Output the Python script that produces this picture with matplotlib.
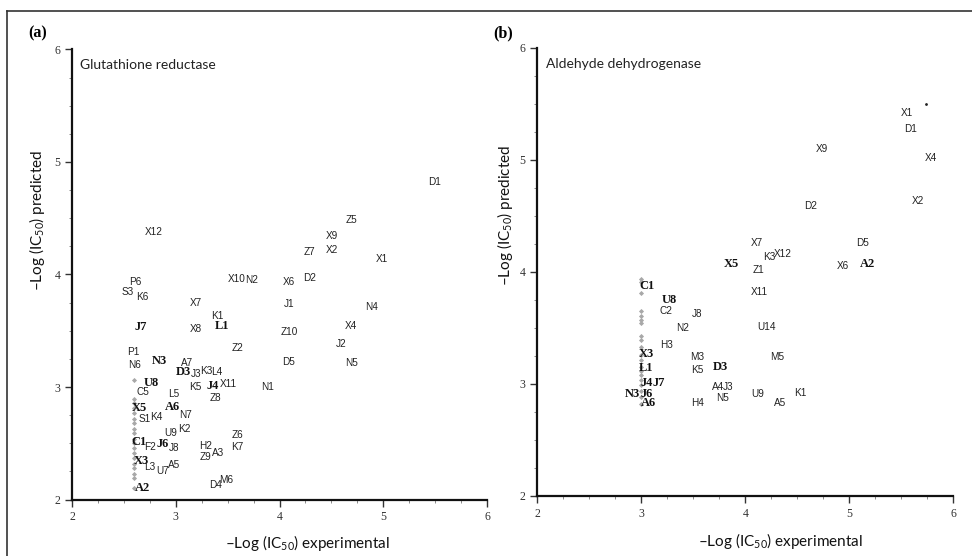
import matplotlib
matplotlib.use("Agg")
from matplotlib import pyplot as plt
from matplotlib.ticker import MultipleLocator
from matplotlib.lines import Line2D

plt.rcParams['mathtext.fontset'] = 'custom'
plt.rcParams['mathtext.rm'] = 'Lato'

# (a) Glutathione reductase: labels, experimental (x), predicted (y)
a_labels = ['D1', 'Z5', 'X9', 'X2', 'Z7', 'X1', 'X6', 'D2', 'J1', 'N4', 'Z10', 'X4',
            'J2', 'D5', 'N5', 'N1', 'X12', 'P6', 'S3', 'K6', 'X10', 'N2', 'J7', 'X8',
            'L1', 'K1', 'X7', 'Z2', 'P1', 'N6', 'N3', 'A7', 'D3', 'J3', 'K3', 'L4',
            'U8', 'C5', 'K5', 'J4', 'X11', 'L5', 'Z8', 'X5', 'A6', 'S1', 'K4', 'N7',
            'K2', 'U9', 'Z6', 'C1', 'F2', 'J6', 'J8', 'H2', 'K7', 'Z9', 'A3', 'X3',
            'L3', 'U7', 'A5', 'D4', 'M6', 'A2']
a_x = [5.49, 4.69, 4.50, 4.50, 4.29, 4.99, 4.09, 4.29, 4.09, 4.89, 4.09, 4.69,
       4.59, 4.09, 4.69, 3.88, 2.79, 2.61, 2.54, 2.68, 3.59, 3.73, 2.66, 3.19,
       3.45, 3.40, 3.19, 3.59, 2.59, 2.60, 2.84, 3.11, 3.07, 3.20, 3.29, 3.39,
       2.76, 2.68, 3.19, 3.36, 3.51, 2.98, 3.38, 2.65, 2.97, 2.70, 2.81, 3.09,
       3.08, 2.95, 3.59, 2.65, 2.75, 2.87, 2.98, 3.29, 3.59, 3.29, 3.41, 2.67,
       2.75, 2.87, 2.98, 3.38, 3.49, 2.68]
a_y = [4.82, 4.48, 4.34, 4.22, 4.20, 4.14, 3.93, 3.97, 3.74, 3.71, 3.49, 3.54,
       3.38, 3.22, 3.21, 3.00, 4.38, 3.93, 3.84, 3.80, 3.96, 3.95, 3.53, 3.52,
       3.54, 3.63, 3.75, 3.35, 3.31, 3.20, 3.23, 3.21, 3.13, 3.12, 3.14, 3.13,
       3.04, 2.96, 3.00, 3.01, 3.03, 2.94, 2.90, 2.81, 2.82, 2.72, 2.73, 2.75,
       2.63, 2.59, 2.57, 2.51, 2.47, 2.49, 2.46, 2.48, 2.47, 2.38, 2.41, 2.34,
       2.29, 2.25, 2.31, 2.13, 2.17, 2.10]
a_bold = ['J7', 'L1', 'N3', 'D3', 'U8', 'J4', 'X5', 'A6', 'C1', 'J6', 'X3', 'A2']
# grey diamonds (overlapping compounds at the low limit)
a_grey_x = 2.60
a_grey_y = [3.06, 2.89, 2.86, 2.81, 2.77, 2.72, 2.68, 2.63, 2.59, 2.54, 2.50,
            2.46, 2.41, 2.37, 2.32, 2.28, 2.23, 2.19, 2.10]

# (b) Aldehyde dehydrogenase
b_labels = ['X1', 'D1', 'X9', 'X4', 'X2', 'D2', 'X7', 'D5', 'K3', 'X12', 'Z1', 'X6',
            'A2', 'X11', 'X5', 'C1', 'U8', 'C2', 'J8', 'N2', 'U14', 'H3', 'X3', 'M3',
            'M5', 'L1', 'K5', 'D3', 'J4', 'J7', 'A4', 'J3', 'N3', 'J6', 'U9', 'K1',
            'N5', 'A6', 'H4', 'A5']
b_x = [5.55, 5.59, 4.74, 5.78, 5.66, 4.63, 4.11, 5.13, 4.23, 4.36, 4.13, 4.94,
       5.17, 4.13, 3.87, 3.05, 3.27, 3.24, 3.54, 3.40, 4.20, 3.24, 3.05, 3.54,
       4.31, 3.05, 3.54, 3.76, 3.05, 3.17, 3.74, 3.83, 2.91, 3.05, 4.12, 4.53,
       3.78, 3.07, 3.54, 4.33]
b_y = [5.42, 5.28, 5.10, 5.02, 4.63, 4.59, 4.26, 4.26, 4.13, 4.16, 4.02, 4.05,
       4.07, 3.82, 4.07, 3.87, 3.75, 3.65, 3.62, 3.50, 3.51, 3.35, 3.27, 3.24,
       3.24, 3.14, 3.12, 3.15, 3.01, 3.01, 2.97, 2.97, 2.91, 2.91, 2.91, 2.92,
       2.87, 2.83, 2.83, 2.83]
b_bold = ['X5', 'A2', 'C1', 'U8', 'X3', 'L1', 'J4', 'J7', 'J6', 'N3', 'A6', 'D3']
b_grey_x = 3.00
b_grey_y = [3.94, 3.91, 3.81, 3.65, 3.61, 3.57, 3.54, 3.43, 3.39, 3.33, 3.26,
            3.21, 3.15, 3.11, 3.08, 3.03, 2.99, 2.94, 2.88, 2.82]
b_dot = (5.74, 5.50)

ticks = [2, 3, 4, 5, 6]

NORMAL = ['Liberation Sans Narrow', 'Liberation Sans']
LABEL_FONT = 'Lato'


def draw_panel(ax, labels, xs, ys, bold, grey_x, grey_y):
    ax.plot([grey_x] * len(grey_y), grey_y, 'D', color='#a8a8a8', ms=2.6, mec='none')
    for lab, x, y in zip(labels, xs, ys):
        if lab in bold:
            ax.text(x, y, lab, ha='center', va='center', fontsize=9,
                    fontweight='bold', family='Liberation Serif', color='#111')
        else:
            ax.text(x, y, lab, ha='center', va='center', fontsize=7.2,
                    family=NORMAL, color='#222')
    ax.set_xlim(2, 6)
    ax.set_ylim(2, 6)
    ax.set_xticks(ticks)
    ax.set_yticks(ticks)
    ax.xaxis.set_minor_locator(MultipleLocator(0.25))
    ax.yaxis.set_minor_locator(MultipleLocator(0.25))
    for s in ['top', 'right']:
        ax.spines[s].set_visible(False)
    for s in ['left', 'bottom']:
        ax.spines[s].set_linewidth(1.6)
        ax.spines[s].set_color('#111')
    ax.tick_params(which='major', length=5, width=1, color='#333',
                   labelsize=8.5, labelcolor='#333')
    ax.tick_params(which='minor', length=2.5, width=0.6, color='#777')
    for t in ax.get_xticklabels() + ax.get_yticklabels():
        t.set_family('Liberation Serif')


fig = plt.figure(figsize=(9.72, 5.56), dpi=100)
ax1 = fig.add_axes([0.0741, 0.1016, 0.4270, 0.8094])
ax2 = fig.add_axes([0.5528, 0.1084, 0.4280, 0.8053])

draw_panel(ax1, a_labels, a_x, a_y, a_bold, a_grey_x, a_grey_y)
draw_panel(ax2, b_labels, b_x, b_y, b_bold, b_grey_x, b_grey_y)
ax2.plot([b_dot[0]], [b_dot[1]], '.', color='#222', ms=2)

ax1.text(0.02, 0.965, 'Glutathione reductase', transform=ax1.transAxes,
         fontsize=10, family=LABEL_FONT, va='center', color='#222')
ax2.text(0.02, 0.965, 'Aldehyde dehydrogenase', transform=ax2.transAxes,
         fontsize=10, family=LABEL_FONT, va='center', color='#222')

xlab = '\u2013Log (IC$\\mathregular{_{50}}$) experimental'
ylab = '\u2013Log (IC$\\mathregular{_{50}}$) predicted'
fig.text(307 / 972, 1 - 543 / 556, xlab, ha='center', va='center',
         fontsize=11, family=LABEL_FONT, color='#111')
fig.text(780 / 972, 1 - 541 / 556, xlab, ha='center', va='center',
         fontsize=11, family=LABEL_FONT, color='#111')
fig.text(37 / 972, 1 - 220 / 556, ylab, ha='center', va='center', rotation=90,
         fontsize=11, family=LABEL_FONT, color='#111')
fig.text(505 / 972, 1 - 215 / 556, ylab, ha='center', va='center', rotation=90,
         fontsize=11, family=LABEL_FONT, color='#111')

fig.text(28 / 972, 1 - 33 / 556, '(a)', fontsize=11.5, fontweight='bold',
         family='Liberation Serif', va='center')
fig.text(493 / 972, 1 - 33 / 556, '(b)', fontsize=11.5, fontweight='bold',
         family='Liberation Serif', va='center')

# outer frame
fig.add_artist(Line2D([7 / 972, 1.0], [1 - 11 / 556] * 2, color='#333', lw=1.2,
                      transform=fig.transFigure))
fig.add_artist(Line2D([7 / 972] * 2, [0.0, 1 - 11 / 556], color='#333', lw=1.2,
                      transform=fig.transFigure))

fig.savefig('out.png', dpi=100)
